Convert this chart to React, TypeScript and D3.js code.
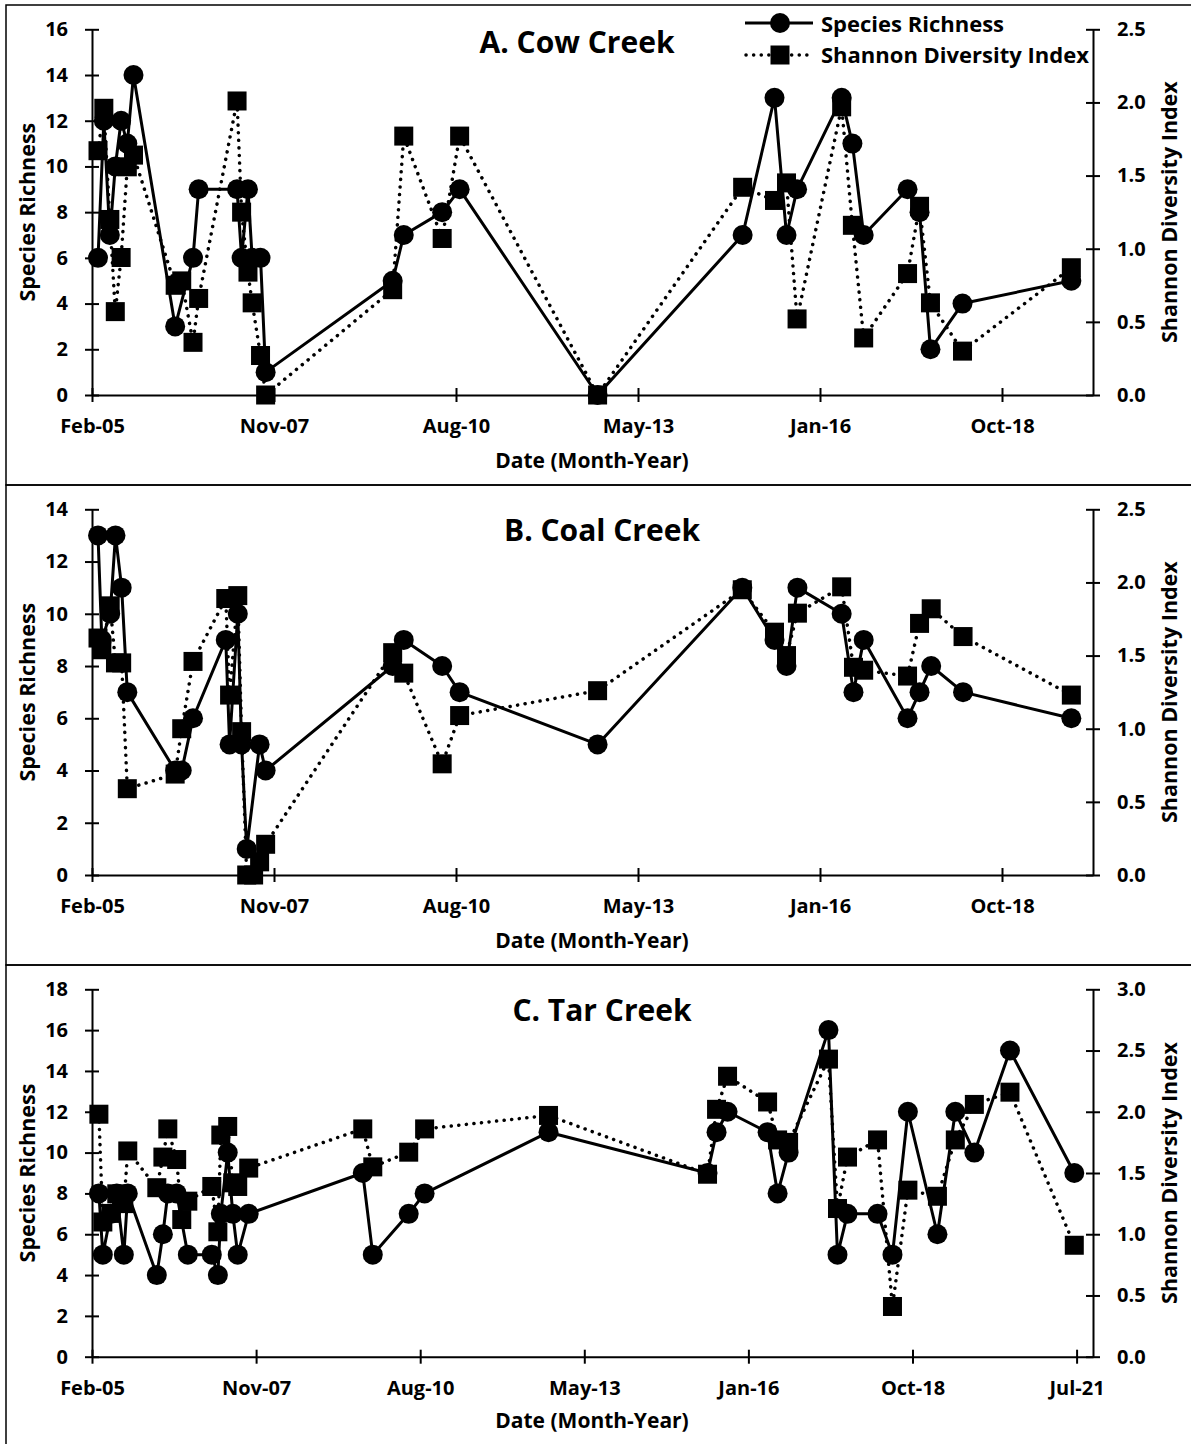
import React, { useEffect, useRef } from 'react'
import * as d3 from 'd3'

// sampling dates (YYYY-MM-DD) and values
const cowDates = [
  '2005-03-20', '2005-04-21', '2005-05-24', '2005-06-23', '2005-07-25', '2005-08-28', '2005-10-01',
  '2006-05-18', '2006-06-23', '2006-08-24', '2006-09-24',
  '2007-04-23', '2007-05-18', '2007-06-22', '2007-07-15', '2007-08-30', '2007-09-27',
  '2009-08-25', '2009-10-25', '2010-05-24', '2010-08-28', '2012-09-24',
  '2014-11-30', '2015-05-24', '2015-07-29', '2015-09-25',
  '2016-05-27', '2016-07-25', '2016-09-25',
  '2017-05-24', '2017-07-29', '2017-09-27', '2018-03-22', '2019-11-10',
]
const cowRichness = [
  6, 12, 7, 10, 12, 11, 14,
  3, null, 6, 9,
  9, 6, 9, 6, 6, 1,
  5, 7, 8, 9, 0,
  7, 13, 7, 9,
  13, 11, 7,
  9, 8, 2, 4, 5,
]
const cowShannon = [
  1.67, 1.96, 1.2, 0.57, 0.94, 1.56, 1.64,
  0.75, 0.78, 0.36, 0.66,
  2.01, 1.25, 0.84, 0.63, 0.27, 0.0,
  0.72, 1.77, 1.07, 1.77, 0.0,
  1.42, 1.33, 1.45, 0.52,
  1.97, 1.16, 0.39,
  0.83, 1.29, 0.63, 0.3, 0.87,
]

const coalDates = [
  '2005-03-20', '2005-04-10', '2005-05-26', '2005-06-24', '2005-07-28', '2005-08-28',
  '2006-05-18', '2006-06-23', '2006-08-24',
  '2007-02-20', '2007-03-13', '2007-04-27', '2007-05-18', '2007-06-15', '2007-07-23', '2007-08-25', '2007-09-27',
  '2009-08-25', '2009-10-25', '2010-05-24', '2010-08-28', '2012-09-24',
  '2014-11-28', '2015-05-24', '2015-07-29', '2015-09-27',
  '2016-05-27', '2016-07-31', '2016-09-25',
  '2017-05-24', '2017-07-29', '2017-10-01', '2018-03-25', '2019-11-10',
]
const coalRichness = [
  13, 9, 10, 13, 11, 7,
  4, 4, 6,
  9, 5, 10, 5, 1, null, 5, 4,
  8, 9, 8, 7, 5,
  11, 9, 8, 11,
  10, 7, 9,
  6, 7, 8, 7, 6,
]
const coalShannon = [
  1.62, 1.54, 1.84, 1.45, 1.45, 0.59,
  0.69, 1.0, 1.46,
  1.89, 1.23, 1.91, 0.98, 0.0, 0.0, 0.09, 0.21,
  1.52, 1.38, 0.76, 1.09, 1.26,
  1.95, 1.66, 1.5, 1.79,
  1.97, 1.42, 1.4,
  1.36, 1.72, 1.82, 1.63, 1.23,
]

const tarDates = [
  '2005-03-29', '2005-04-22', '2005-06-10', '2005-07-16', '2005-08-28', '2005-09-21',
  '2006-03-17', '2006-04-23', '2006-05-23', '2006-07-16', '2006-08-16', '2006-09-22',
  '2007-02-15', '2007-03-24', '2007-04-11', '2007-05-23', '2007-06-23', '2007-07-23', '2007-09-28',
  '2009-08-23', '2009-10-23', '2010-05-30', '2010-09-04', '2012-09-28',
  '2015-05-25', '2015-07-19', '2015-09-24',
  '2016-05-25', '2016-07-25', '2016-09-30',
  '2017-05-31', '2017-07-25', '2017-09-24',
  '2018-03-26', '2018-06-25', '2018-09-27',
  '2019-03-26', '2019-07-13', '2019-11-06', '2020-06-10', '2021-07-07',
]
const tarRichness = [
  8, 5, 7, 8, 5, 8,
  4, 6, 8, 8, null, 5,
  5, 4, 7, 10, 7, 5, 7,
  9, 5, 7, 8, 11,
  9, 11, 12,
  11, 8, 10,
  16, 5, 7,
  7, 5, 12,
  6, 12, 10, 15, 9,
]
const tarShannon = [
  1.98, 1.1, 1.17, 1.33, 1.25, 1.68,
  1.38, 1.63, 1.86, 1.61, 1.12, 1.27,
  1.39, 1.02, 1.81, 1.88, 1.42, 1.39, 1.54,
  1.86, 1.55, 1.67, 1.86, 1.97,
  1.49, 2.02, 2.29,
  2.08, 1.77, 1.75,
  2.43, 1.21, 1.63,
  1.77, 0.41, 1.36,
  1.31, 1.77, 2.06, 2.16, 0.91,
]

// Excel date axis: starts mid Feb 2005, a major tick every 1000 days
const axisStartDay = '2005-02-15'
const tickStepDays = 1000

const FONT = "'Open Sans', sans-serif"
const PLOT_LEFT = 92
const PLOT_RIGHT = 1093
const PLOT_TOP = 24.3
const DOT_R = 10
const SQ = 19

const parseDay = d3.timeParse('%Y-%m-%d')
const axisStart = parseDay(axisStartDay) as Date

type TRow = { date: Date; value: number }

type TPanelProps = {
  title: string
  titleX: number
  top: number
  dates: string[]
  richness: Array<number | null>
  shannon: Array<number | null>
  leftMax: number
  rightMax: number
  spanDays: number
  plotBottom: number
  showLegend?: boolean
}

const toRows = (dates: string[], values: Array<number | null>): TRow[] =>
  dates
    .map((d, i) => ({ date: parseDay(d) as Date, value: values[i] as number }))
    .filter(r => r.value !== null && r.value !== undefined)

const CreekPanel = ({
  title,
  titleX,
  top,
  dates,
  richness,
  shannon,
  leftMax,
  rightMax,
  spanDays,
  plotBottom,
  showLegend = false,
}: TPanelProps): JSX.Element => {
  const ref = useRef<SVGGElement>(null)

  useEffect(() => {
    const g = d3.select(ref.current)
    g.selectAll('*').remove()

    // chart-area border (right and bottom edges fall outside the picture)
    g.append('rect')
      .attr('x', 6)
      .attr('y', 0)
      .attr('width', 1200)
      .attr('height', 480)
      .attr('fill', 'none')
      .attr('stroke', '#000')
      .attr('stroke-width', 1.5)

    const x = d3
      .scaleTime()
      .domain([axisStart, d3.timeDay.offset(axisStart, spanDays)])
      .range([PLOT_LEFT, PLOT_RIGHT])
    const yLeft = d3.scaleLinear().domain([0, leftMax]).range([plotBottom, PLOT_TOP])
    const yRight = d3.scaleLinear().domain([0, rightMax]).range([plotBottom, PLOT_TOP])

    const xTicks = d3
      .range(0, spanDays + 1, tickStepDays)
      .map(n => d3.timeDay.offset(axisStart, n))

    const styleAxis = (ax: d3.Selection<SVGGElement, unknown, null, undefined>) => {
      ax.select('.domain').attr('stroke', '#000').attr('stroke-width', 2)
      ax.selectAll('.tick line').attr('stroke', '#000').attr('stroke-width', 2)
      ax.selectAll('.tick text')
        .attr('fill', '#000')
        .style('font-family', FONT)
        .style('font-weight', 'bold')
        .style('font-size', '20px')
    }

    // bottom date axis
    g.append('g')
      .attr('transform', 'translate(0,' + plotBottom + ')')
      .call(
        d3
          .axisBottom(x)
          .tickValues(xTicks)
          .tickFormat(d => d3.timeFormat('%b-%y')(d as Date))
          .tickSizeInner(7)
          .tickSizeOuter(0),
      )
      .call(ax => {
        styleAxis(ax)
        ax.selectAll('.tick line').attr('y1', -7)
        ax.selectAll('.tick text').attr('y', 38).attr('dy', 0)
      })

    // left axis: species richness
    g.append('g')
      .attr('transform', 'translate(' + PLOT_LEFT + ',0)')
      .call(
        d3
          .axisLeft(yLeft)
          .tickValues(d3.range(0, leftMax + 0.001, 2))
          .tickFormat(d3.format('d'))
          .tickSizeInner(7)
          .tickSizeOuter(0)
          .tickPadding(17),
      )
      .call(ax => {
        styleAxis(ax)
        ax.selectAll('.tick line').attr('x1', 7)
      })

    // right axis: shannon diversity
    g.append('g')
      .attr('transform', 'translate(' + PLOT_RIGHT + ',0)')
      .call(
        d3
          .axisRight(yRight)
          .tickValues(d3.range(0, rightMax + 0.001, 0.5))
          .tickFormat(d3.format('.1f'))
          .tickSizeInner(7)
          .tickSizeOuter(0)
          .tickPadding(17),
      )
      .call(ax => {
        styleAxis(ax)
        ax.selectAll('.tick line').attr('x1', -7)
      })

    const richRows = toRows(dates, richness)
    const shanRows = toRows(dates, shannon)

    const richLine = d3
      .line<TRow>()
      .x(d => x(d.date))
      .y(d => yLeft(d.value))
    const shanLine = d3
      .line<TRow>()
      .x(d => x(d.date))
      .y(d => yRight(d.value))

    g.append('path')
      .datum(richRows)
      .attr('fill', 'none')
      .attr('stroke', '#000')
      .attr('stroke-width', 3)
      .attr('stroke-linejoin', 'round')
      .attr('d', richLine)
    g.append('g')
      .selectAll('circle')
      .data(richRows)
      .join('circle')
      .attr('cx', d => x(d.date))
      .attr('cy', d => yLeft(d.value))
      .attr('r', DOT_R)
      .attr('fill', '#000')

    g.append('path')
      .datum(shanRows)
      .attr('fill', 'none')
      .attr('stroke', '#000')
      .attr('stroke-width', 3.5)
      .attr('stroke-linecap', 'round')
      .attr('stroke-dasharray', '0.1 7.5')
      .attr('d', shanLine)
    g.append('g')
      .selectAll('rect')
      .data(shanRows)
      .join('rect')
      .attr('x', d => x(d.date) - SQ / 2)
      .attr('y', d => yRight(d.value) - SQ / 2)
      .attr('width', SQ)
      .attr('height', SQ)
      .attr('fill', '#000')

    const label = (tx: number, ty: number, text: string, size: number, anchor = 'middle', rotate = false) => {
      const t = g
        .append('text')
        .attr('text-anchor', anchor)
        .attr('fill', '#000')
        .style('font-family', FONT)
        .style('font-weight', 'bold')
        .style('font-size', size + 'px')
        .text(text)
      if (rotate) t.attr('transform', 'translate(' + tx + ',' + ty + ') rotate(-90)')
      else t.attr('x', tx).attr('y', ty)
    }

    const midY = (PLOT_TOP + plotBottom) / 2
    label(titleX, top === 5 ? 48 : 56, title, 30)
    label(592, 463, 'Date (Month-Year)', 21)
    label(35, midY, 'Species Richness', 21.5, 'middle', true)
    label(1177, midY, 'Shannon Diversity Index', 21.5, 'middle', true)

    if (showLegend) {
      const lg = g.append('g')
      lg.append('line')
        .attr('x1', 745).attr('x2', 813).attr('y1', 18).attr('y2', 18)
        .attr('stroke', '#000').attr('stroke-width', 3)
      lg.append('circle').attr('cx', 780).attr('cy', 18).attr('r', DOT_R).attr('fill', '#000')
      lg.append('line')
        .attr('x1', 746).attr('x2', 813).attr('y1', 50).attr('y2', 50)
        .attr('stroke', '#000').attr('stroke-width', 3.5)
        .attr('stroke-linecap', 'round').attr('stroke-dasharray', '0.1 7.5')
      lg.append('rect')
        .attr('x', 780 - SQ / 2).attr('y', 50 - SQ / 2)
        .attr('width', SQ).attr('height', SQ).attr('fill', '#000')
      label(821, 26.5, 'Species Richness', 22, 'start')
      label(821, 58, 'Shannon Diversity Index', 22, 'start')
    }
  }, [])

  return <g ref={ref} transform={'translate(0,' + top + ')'} />
}

const App = (): JSX.Element => {
  return (
    <div>
      <style>{'body{margin:0;background:#fff}'}</style>
      <svg width={1191} height={1444} style={{ display: 'block' }}>
        <rect width={1191} height={1444} fill='#fff' />
        <CreekPanel
          title='A. Cow Creek'
          titleX={577}
          top={5}
          dates={cowDates}
          richness={cowRichness}
          shannon={cowShannon}
          leftMax={16}
          rightMax={2.5}
          spanDays={5500}
          plotBottom={390}
          showLegend
        />
        <CreekPanel
          title='B. Coal Creek'
          titleX={602}
          top={485}
          dates={coalDates}
          richness={coalRichness}
          shannon={coalShannon}
          leftMax={14}
          rightMax={2.5}
          spanDays={5500}
          plotBottom={390}
        />
        <CreekPanel
          title='C. Tar Creek'
          titleX={602}
          top={965}
          dates={tarDates}
          richness={tarRichness}
          shannon={tarShannon}
          leftMax={18}
          rightMax={3.0}
          spanDays={6100}
          plotBottom={391.7}
        />
      </svg>
    </div>
  )
}

export default App
